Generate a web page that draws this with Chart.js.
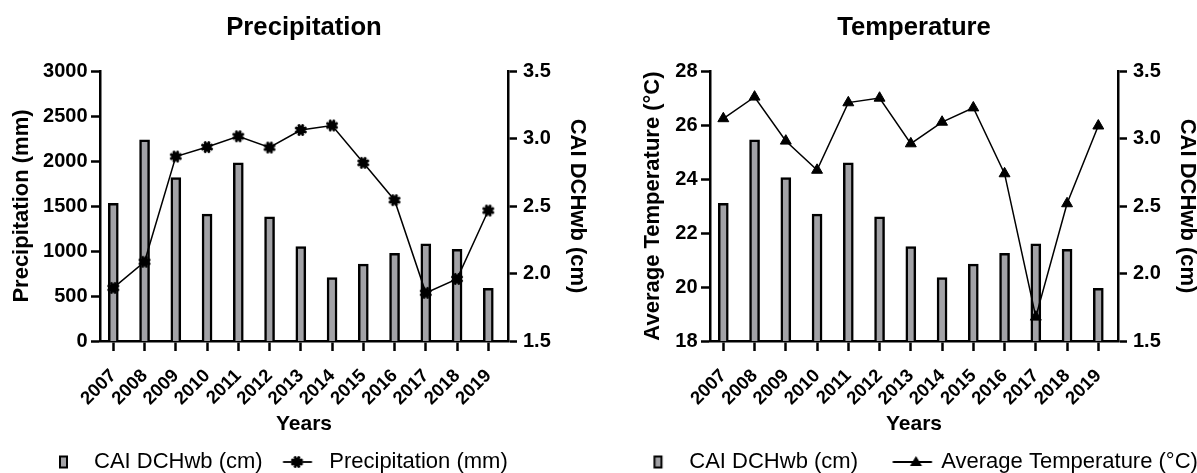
<!DOCTYPE html>
<html>
<head>
<meta charset="utf-8">
<script src="https://cdn.jsdelivr.net/npm/chart.js@4.4.1/dist/chart.umd.min.js"></script>
<style>
html,body{margin:0;padding:0;background:#fff;width:1197px;height:473px;overflow:hidden;}
canvas{position:absolute;top:0;}
#c1{left:0px;}
#c2{left:610px;}
</style>
</head>
<body>
<canvas id="c1" width="587" height="473"></canvas>
<canvas id="c2" width="587" height="473"></canvas>
<script>
// ---- data ----
const years = ['2007','2008','2009','2010','2011','2012','2013','2014','2015','2016','2017','2018','2019'];
const caiDCHwb = [2.52, 2.99, 2.71, 2.44, 2.82, 2.42, 2.20, 1.97, 2.07, 2.15, 2.22, 2.18, 1.89];
const precipitation = [590, 880, 2050, 2155, 2275, 2150, 2345, 2395, 1980, 1565, 535, 690, 1450];
const avgTemperature = [26.24, 27.04, 25.41, 24.33, 26.83, 27.00, 25.31, 26.11, 26.64, 24.20, 18.89, 23.09, 25.97];
const precipAxis = {min: 0, max: 3000, step: 500};
const tempAxis = {min: 18, max: 28, step: 2};
const caiAxis = {min: 1.5, max: 3.5, step: 0.5};

const FONT = '"Liberation Sans", Arial, Helvetica, sans-serif';
const BAR_FILL = '#a2a2a6';

function makeCanvas(w, h) { const c = document.createElement('canvas'); c.width = w; c.height = h; return c; }
function drawStar(g, cx, cy) {
  g.save();
  g.fillStyle = '#000'; g.strokeStyle = '#000'; g.lineWidth = 3; g.lineCap = 'round';
  for (let k = 0; k < 8; k++) {
    const a = k * Math.PI / 4 + Math.PI / 8;
    g.beginPath(); g.moveTo(cx, cy); g.lineTo(cx + 4.8 * Math.cos(a), cy + 4.8 * Math.sin(a)); g.stroke();
  }
  g.beginPath(); g.arc(cx, cy, 4.1, 0, Math.PI * 2); g.fill();
  g.restore();
}
const starPoint = (() => { const c = makeCanvas(14, 14); drawStar(c.getContext('2d'), 7, 7); return c; })();
function barIcon(cx) {
  const c = makeCanvas(40, 22), g = c.getContext('2d');
  g.fillStyle = '#000'; g.fillRect(cx - 4.5, 4.5, 9, 13);
  g.fillStyle = BAR_FILL; g.fillRect(cx - 2.5, 6.5, 5, 9);
  return c;
}
function lineIcon(w, x1, x2, mx, marker) {
  const c = makeCanvas(w, 22), g = c.getContext('2d');
  g.strokeStyle = '#000'; g.lineWidth = 1.8;
  g.beginPath(); g.moveTo(x1, 11); g.lineTo(x2, 11); g.stroke();
  if (marker === 'star') drawStar(g, mx, 11);
  else {
    g.fillStyle = '#000'; g.beginPath();
    g.moveTo(mx, 5); g.lineTo(mx + 6, 15); g.lineTo(mx - 6, 15); g.closePath(); g.fill();
  }
  return c;
}

function legendPositioner(x0, pad, textY) {
  return {
    id: 'legendPos',
    afterLayout(chart) {
      const lg = chart.legend; if (!lg) return;
      lg.left = x0 - pad; lg.right = chart.width + 300;
      lg.top = textY - 11 - pad; lg.bottom = chart.height;
      lg.width = lg.right - lg.left; lg.height = lg.bottom - lg.top;
    }
  };
}

function makeChart(id, o) {
  const lineXY = o.lineData.map((v, i) => ({x: i, y: v}));
  const barXY = caiDCHwb.map((v, i) => ({x: i, y: v}));
  const tickFont = {family: FONT, size: 20, weight: 'bold'};
  return new Chart(document.getElementById(id), {
    type: 'bar',
    data: {
      datasets: [
        {type: 'line', label: o.lineLabel, data: lineXY, yAxisID: 'y', borderColor: '#000', borderWidth: 1.5,
         pointStyle: o.pointStyle, pointRadius: o.pointRadius, pointBackgroundColor: '#000', pointBorderColor: '#000',
         pointBorderWidth: 1, tension: 0, fill: false, order: 0, clip: false},
        {type: 'bar', label: 'CAI DCHwb (cm)', data: barXY, yAxisID: 'y1', backgroundColor: BAR_FILL,
         borderColor: '#000', borderWidth: 2.5, borderSkipped: 'start', barThickness: 10, order: 1}
      ]
    },
    options: {
      responsive: false, animation: false, devicePixelRatio: 1,
      layout: {padding: 0},
      plugins: {
        title: {display: true, text: o.title, fullSize: false, color: '#000',
                font: {family: FONT, size: 25.7, weight: 'bold', lineHeight: 1.2},
                padding: {top: 12.6, bottom: 27.6}},
        legend: {display: true, position: 'bottom', align: 'start', maxHeight: 1,
                 labels: {usePointStyle: true, pointStyleWidth: 40, boxHeight: 22, padding: o.legendPad,
                          color: '#000', font: {family: FONT, size: 22},
                          generateLabels: () => [
                            {text: 'CAI DCHwb (cm)', pointStyle: o.barIcon, fillStyle: '#000', strokeStyle: '#000', lineWidth: 0, hidden: false, datasetIndex: 1, fontColor: '#000'},
                            {text: o.lineLabel, pointStyle: o.lineIcon, fillStyle: '#000', strokeStyle: '#000', lineWidth: 0, hidden: false, datasetIndex: 0, fontColor: '#000'}
                          ]}},
        tooltip: {enabled: false}
      },
      scales: {
        x: {type: 'linear', bounds: 'data', min: -0.426, max: 12.63, offset: false,
            afterBuildTicks: s => { s.ticks = years.map((_, i) => ({value: i})); },
            afterFit: s => { s.height = 131; },
            ticks: {autoSkip: false, maxRotation: 45, minRotation: 45, padding: 14, color: '#000',
                    font: {family: FONT, size: 18.5, weight: 'bold'},
                    callback: v => years[v]},
            grid: {offset: false, drawOnChartArea: false, drawTicks: true, tickLength: 10, tickWidth: 2.5, tickColor: '#000', color: '#000'},
            border: {display: true, color: '#000', width: 2.5},
            title: {display: true, text: 'Years', color: '#000', font: {family: FONT, size: 21, weight: 'bold', lineHeight: 1.2},
                    padding: {top: 0, bottom: 35.4}}},
        y: {position: 'left', min: o.axis.min, max: o.axis.max,
            afterFit: s => { s.width = 100; },
            ticks: {stepSize: o.axis.step, padding: 3.5, color: '#000', font: tickFont, callback: v => String(v)},
            grid: {drawOnChartArea: false, drawTicks: true, tickLength: 9, tickWidth: 2.5, tickColor: '#000', color: '#000'},
            border: {display: true, color: '#000', width: 2.5},
            title: {display: true, text: o.yTitle, color: '#000', font: {family: FONT, size: 22, weight: 'bold', lineHeight: 1},
                    padding: {top: o.yTitlePad, bottom: 0}}},
        y1: {position: 'right', min: caiAxis.min, max: caiAxis.max,
             afterFit: s => { s.width = 79; },
             ticks: {stepSize: caiAxis.step, padding: 6, color: '#000', font: tickFont, callback: v => Number(v).toFixed(1)},
             grid: {drawOnChartArea: false, drawTicks: true, tickLength: 9, tickWidth: 2.5, tickColor: '#000', color: '#000'},
             border: {display: true, color: '#000', width: 2.5},
             title: {display: true, text: 'CAI DCHwb (cm)', color: '#000', font: {family: FONT, size: 22, weight: 'bold', lineHeight: 0.86},
                     padding: {top: 0, bottom: 0}}}
      }
    },
    plugins: [legendPositioner(o.legendX0, o.legendPad, 462)]
  });
}

makeChart('c1', {
  title: 'Precipitation', lineLabel: 'Precipitation (mm)', lineData: precipitation, axis: precipAxis,
  yTitle: 'Precipitation (mm)', yTitlePad: 10.7, pointStyle: starPoint, pointRadius: 5,
  legendX0: 43, legendPad: 15.6,
  barIcon: barIcon(20.5), lineIcon: lineIcon(40, 4.7, 33.7, 18.7, 'star')
});
makeChart('c2', {
  title: 'Temperature', lineLabel: 'Average Temperature (°C)', lineData: avgTemperature, axis: tempAxis,
  yTitle: 'Average Temperature (°C)', yTitlePad: 32.3, pointStyle: 'triangle', pointRadius: 6.3,
  legendX0: 28.3, legendPad: 32.3,
  barIcon: barIcon(19.7), lineIcon: lineIcon(48, 6.4, 45.7, 29.7, 'triangle')
});
</script>
</body>
</html>
